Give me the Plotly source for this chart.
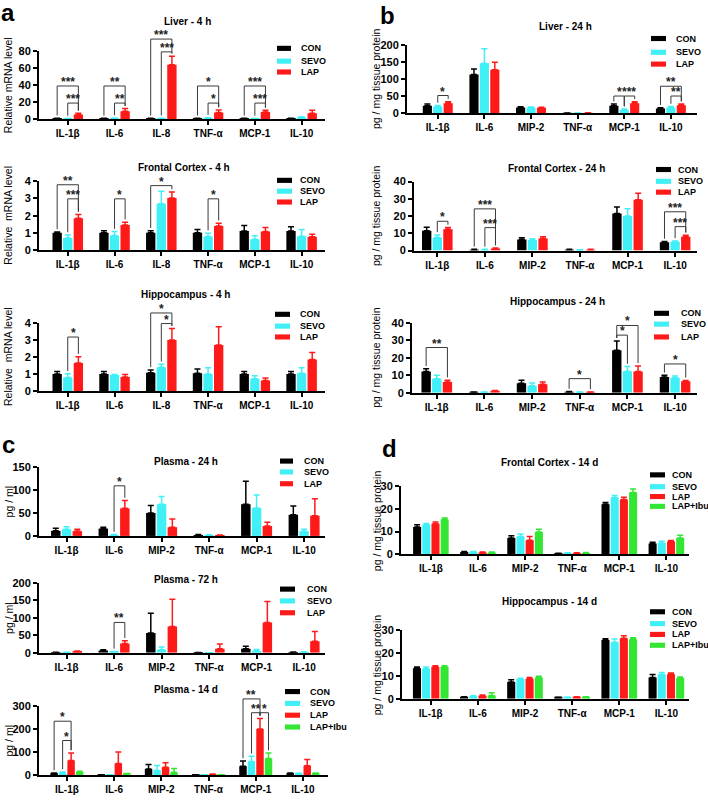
import plotly.graph_objects as go

W, H = 708, 800
FONT = "Arial, 'Liberation Sans', Helvetica, sans-serif"

# ---------------- categories / groups ----------------
CYTO_A = ["IL-1β", "IL-6", "IL-8", "TNF-α", "MCP-1", "IL-10"]
CYTO_B = ["IL-1β", "IL-6", "MIP-2", "TNF-α", "MCP-1", "IL-10"]
GROUPS = ["CON", "SEVO", "LAP", "LAP+Ibu"]
COLORS = ["#000000", "#40F0F6", "#FF1A1A", "#33E633"]

# ---------------- panel a : relative mRNA level ----------------
liver_4h_mean = [[1.0, 1.0, 1.0, 1.0, 1.0, 1.0],
                 [0.8, 1.2, 1.0, 1.5, 0.8, 2.5],
                 [5.5, 9.5, 64.0, 8.0, 8.5, 7.0]]
liver_4h_sem = [[0.2, 0.2, 0.2, 0.2, 0.2, 0.2],
                [0.2, 0.3, 0.2, 0.4, 0.2, 0.6],
                [1.5, 3.0, 10.0, 3.0, 2.0, 3.5]]
liver_4h_sig = [(0, 0, 2, 39, "***"), (0, 1, 2, 19, "***"),
                (1, 0, 2, 39, "**"), (1, 1, 2, 19, "**"),
                (2, 0, 2, 94, "***"), (2, 1, 2, 79, "***"),
                (3, 0, 2, 39, "*"), (3, 1, 2, 19, "*"),
                (4, 0, 2, 39, "***"), (4, 1, 2, 19, "***")]

fc_4h_mean = [[1.0, 1.0, 1.0, 1.0, 1.1, 1.1],
              [0.7, 0.85, 2.7, 0.78, 0.63, 0.8],
              [1.85, 1.45, 3.03, 1.4, 1.08, 0.77]]
fc_4h_sem = [[0.05, 0.12, 0.12, 0.2, 0.32, 0.25],
             [0.17, 0.22, 0.72, 0.2, 0.2, 0.4],
             [0.22, 0.17, 0.35, 0.16, 0.23, 0.15]]
fc_4h_sig = [(0, 0, 2, 3.8, "**"), (0, 1, 2, 2.98, "***"),
             (1, 1, 2, 2.98, "*"), (2, 0, 2, 3.75, "*"), (3, 1, 2, 2.98, "*")]

hip_4h_mean = [[1.0, 1.0, 1.07, 1.05, 1.0, 1.0],
               [0.8, 0.95, 1.4, 1.0, 0.73, 1.05],
               [1.65, 0.83, 3.0, 2.71, 0.63, 1.85]]
hip_4h_sem = [[0.15, 0.15, 0.17, 0.25, 0.15, 0.15],
              [0.22, 0.03, 0.18, 0.37, 0.17, 0.32],
              [0.37, 0.15, 0.67, 1.06, 0.14, 0.42]]
hip_4h_sig = [(0, 1, 2, 3.17, "*"), (2, 0, 2, 4.58, "*"), (2, 1, 2, 3.96, "*")]

# ---------------- panel b : pg / mg tissue protein, 24 h ----------------
liver_24h_mean = [[22, 113, 17, 0.5, 22, 14],
                  [20, 146, 17, 1.0, 9.5, 17],
                  [29.5, 127, 16, 1.5, 29.5, 24]]
liver_24h_sem = [[5, 16, 2, 0.3, 5, 2.5],
                 [3, 42, 1.5, 0.3, 3, 3],
                 [4.5, 22, 2, 0.5, 4, 3]]
liver_24h_sig = [(0, 1, 2, 52, "*"), (4, 0, 1, 50.5, "*"), (4, 1, 2, 50.5, "***"),
                 (5, 0, 2, 79, "**"), (5, 1, 2, 50.5, "**")]

fc_24h_mean = [[11.5, 0.5, 6.5, 0.5, 21.5, 4.8],
               [7.6, 0.5, 6.1, 0.3, 20.0, 5.1],
               [12.4, 1.2, 7.0, 0.5, 29.5, 8.0]]
fc_24h_sem = [[2.0, 0.2, 1.0, 0.2, 3.8, 0.5],
              [1.5, 0.2, 0.8, 0.2, 4.2, 0.5],
              [1.0, 0.3, 1.0, 0.2, 3.8, 0.9]]
fc_24h_sig = [(0, 1, 2, 17, "*"), (1, 0, 2, 24.2, "***"), (1, 1, 2, 13.3, "***"),
              (5, 0, 2, 22.5, "***"), (5, 1, 2, 13.9, "***")]

hip_24h_mean = [[12.2, 0.3, 5.4, 0.5, 24.4, 9.0],
                [8.1, 0.3, 4.1, 0.2, 12.4, 8.6],
                [6.2, 1.0, 4.9, 0.3, 12.2, 6.6]]
hip_24h_sem = [[1.5, 0.2, 1.8, 0.2, 5.3, 1.0],
               [2.0, 0.2, 1.5, 0.2, 2.6, 1.0],
               [1.0, 0.3, 1.3, 0.2, 3.2, 0.5]]
hip_24h_sig = [(0, 0, 2, 25.9, "**"), (3, 0, 2, 8.1, "*"), (4, 0, 1, 33, "*"),
               (4, 0, 2, 38.5, "*"), (5, 0, 2, 16.5, "*")]

# ---------------- panel c : plasma pg / ml ----------------
plasma_24h_mean = [[11, 16, 50, 2, 69, 46],
                   [14.5, 2, 69, 1.5, 61, 10],
                   [10.5, 60, 19, 1, 21.5, 44]]
plasma_24h_sem = [[5.5, 3, 16, 1, 50, 19],
                  [5.5, 1, 17, 1, 28, 4.5],
                  [4, 17, 18, 1, 8.5, 37]]
plasma_24h_sig = [(1, 1, 2, 109, "*")]

plasma_72h_mean = [[1, 6.5, 57, 0.5, 12, 2],
                   [1, 3, 9, 0.3, 5, 2],
                   [4.5, 27, 75, 12, 87, 33]]
plasma_72h_sem = [[0.5, 2, 56, 0.3, 7, 0.5],
                  [0.5, 1, 8, 0.2, 4.5, 1],
                  [1, 7.5, 78, 13, 60, 28]]
plasma_72h_sig = [(1, 1, 2, 87, "**")]

plasma_14d_mean = [[7, 1, 26, 0.5, 38.5, 7],
                   [10, 1, 20, 0.5, 58.5, 6],
                   [63, 50, 34, 3, 200, 40],
                   [13, 5, 11.5, 0.5, 71.5, 7]]
plasma_14d_sem = [[2, 0.5, 20, 0.2, 22, 2],
                  [3, 0.5, 21, 0.2, 23, 2],
                  [33, 50, 19, 1, 46, 27],
                  [3, 2, 17, 0.2, 24, 2]]
plasma_14d_sig = [(0, 0, 2, 234, "*"), (0, 1, 2, 150, "*"),
                  (4, 0, 2, 331, "**"), (4, 1, 2, 271, "**"), (4, 2, 3, 271, "*")]

# ---------------- panel d : pg / mg tissue protein, 14 d ----------------
fc_14d_mean = [[12.0, 1.0, 7.2, 0.3, 22.0, 4.8],
               [13.0, 1.0, 7.8, 0.5, 25.0, 5.0],
               [13.4, 0.8, 6.2, 0.5, 24.1, 5.6],
               [15.3, 0.8, 9.8, 0.6, 27.1, 7.2]]
fc_14d_sem = [[1.0, 0.3, 1.0, 0.2, 0.7, 0.5],
              [0.5, 0.2, 1.1, 0.2, 0.8, 0.8],
              [0.8, 0.2, 1.6, 0.2, 1.0, 0.5],
              [0.6, 0.2, 1.2, 0.2, 1.6, 1.2]]

hip_14d_mean = [[13.3, 0.7, 7.3, 0.5, 25.6, 9.3],
                [13.0, 1.1, 8.6, 0.5, 24.6, 10.6],
                [13.9, 1.3, 8.7, 0.7, 26.3, 10.7],
                [13.9, 1.4, 9.3, 0.7, 25.9, 9.0]]
hip_14d_sem = [[0.5, 0.2, 1.0, 0.2, 0.5, 1.2],
               [0.8, 0.2, 0.3, 0.2, 1.4, 0.8],
               [0.5, 0.3, 0.5, 0.2, 1.1, 0.5],
               [0.5, 1.2, 0.5, 0.2, 0.6, 0.5]]

TITLES = ["Liver - 4 h", "Frontal Cortex - 4 h", "Hippocampus - 4 h",
          "Liver - 24 h", "Frontal Cortex - 24 h", "Hippocampus - 24 h",
          "Plasma - 24 h", "Plasma - 72 h", "Plasma - 14 d",
          "Frontal Cortex - 14 d", "Hippocampus - 14 d"]
YTITLES = ["Relative mRNA level", "Relative  mRNA level", "Relative  mRNA level",
           "pg / mg tissue protein", "pg / mg tissue protein", "pg / mg tissue protein",
           "pg / ml", "pg / ml", "pg / ml",
           "pg / mg tissue protein", "pg / mg tissue protein"]

DATA = [
    (CYTO_A, liver_4h_mean, liver_4h_sem, liver_4h_sig),
    (CYTO_A, fc_4h_mean, fc_4h_sem, fc_4h_sig),
    (CYTO_A, hip_4h_mean, hip_4h_sem, hip_4h_sig),
    (CYTO_B, liver_24h_mean, liver_24h_sem, liver_24h_sig),
    (CYTO_B, fc_24h_mean, fc_24h_sem, fc_24h_sig),
    (CYTO_B, hip_24h_mean, hip_24h_sem, hip_24h_sig),
    (CYTO_B, plasma_24h_mean, plasma_24h_sem, plasma_24h_sig),
    (CYTO_B, plasma_72h_mean, plasma_72h_sem, plasma_72h_sig),
    (CYTO_B, plasma_14d_mean, plasma_14d_sem, plasma_14d_sig),
    (CYTO_B, fc_14d_mean, fc_14d_sem, []),
    (CYTO_B, hip_14d_mean, hip_14d_sem, []),
]

# ---------------- layout (pixel geometry) ----------------
LAYOUT = [
    dict(box=(39, 325, 115, 45.7), ymax=80, dtick=20, xr=(-0.615, 5.5), gw=0.68, title=(187, 16), ytx=8, leg=(277, 291, 299, [43, 56, 67])),
    dict(box=(39, 325, 247.7, 178), ymax=4, dtick=1, xr=(-0.615, 5.5), gw=0.68, title=(184, 164), ytx=8, leg=(277, 292, 298, [177, 188, 199])),
    dict(box=(39, 325, 391, 321.7), ymax=4, dtick=1, xr=(-0.615, 5.5), gw=0.68, title=(185, 293), ytx=8, leg=(275, 290, 298, [313, 325, 336])),
    dict(box=(407, 697, 109, 39.3), ymax=200, dtick=50, xr=(-0.66, 5.56), gw=0.67, title=(565, 21), ytx=376, leg=(651, 666, 674, [33, 47, 59])),
    dict(box=(414, 697, 248.3, 178.3), ymax=40, dtick=10, xr=(-0.49, 5.46), gw=0.67, title=(556, 165), ytx=376, leg=(656, 671, 676, [166, 178, 189])),
    dict(box=(412, 697, 392.7, 321.7), ymax=40, dtick=10, xr=(-0.52, 5.46), gw=0.67, title=(557, 300), ytx=376, leg=(654, 669, 679, [312, 323, 336])),
    dict(box=(39, 325, 538, 468), ymax=150, dtick=50, xr=(-0.58, 5.44), gw=0.68, title=(186, 462), ytx=9, leg=(280, 293, 302, [462, 473, 485])),
    dict(box=(39, 325, 656.7, 585.7), ymax=200, dtick=50, xr=(-0.58, 5.44), gw=0.68, title=(186, 582), ytx=9, leg=(280, 295, 305, [592, 604, 616])),
    dict(box=(39, 328, 780.7, 710.7), ymax=300, dtick=100, xr=(-0.59, 5.53), gw=0.72, title=(186, 694), ytx=9, leg=(285, 300, 308, [696, 708, 720, 732])),
    dict(box=(401, 689, 556.7, 487.3), ymax=30, dtick=10, xr=(-0.635, 5.48), gw=0.78, title=(549, 463), ytx=377, leg=(650, 665, 670, [476, 488, 498, 508])),
    dict(box=(402, 689, 703.3, 633.3), ymax=30, dtick=10, xr=(-0.61, 5.48), gw=0.78, title=(549, 605), ytx=377, leg=(650, 665, 670, [615, 627, 638, 649])),
]
LETTERS = [("a", 8, 7), ("b", 388, 10), ("c", 8, 445), ("d", 389, 449)]

fig = go.Figure()
shapes, annotations, axes = [], [], {}

def font(size, bold=False, color="black"):
    d = dict(family=FONT, size=size, color=color)
    if bold:
        d["weight"] = "bold"
    return d

for k, ((cats, mean, sem, sig), lay, title, ytitle) in enumerate(zip(DATA, LAYOUT, TITLES, YTITLES), start=1):
    sfx = "" if k == 1 else str(k)
    xa, ya = "x" + sfx, "y" + sfx
    x0, x1, yb, yt = lay["box"]
    xr, ymax = lay["xr"], lay["ymax"]
    n = len(mean)
    gw = lay["gw"]
    slot = gw / n
    bw = slot * 0.88
    offs = [-gw / 2 + slot * i + (slot - bw) / 2 for i in range(n)]

    for i in range(n):
        fig.add_trace(go.Bar(
            x=cats, y=mean[i], width=bw, offset=offs[i], name=GROUPS[i],
            marker=dict(color=COLORS[i], line=dict(width=0)),
            error_y=dict(type="data", array=sem[i], arrayminus=[0] * len(cats), symmetric=False,
                         color=COLORS[i], thickness=1.5, width=3),
            xaxis=xa, yaxis=ya, showlegend=False))

    axes["xaxis" + sfx] = dict(
        domain=[x0 / W, x1 / W], anchor=ya, type="category", range=list(xr),
        showline=True, linewidth=2, linecolor="black", ticks="outside", ticklen=4,
        tickwidth=1.5, tickcolor="black", tickfont=font(10, True), showgrid=False,
        zeroline=False, fixedrange=True)
    axes["yaxis" + sfx] = dict(
        domain=[1 - yb / H, 1 - yt / H], anchor=xa, range=[0, ymax], tickmode="linear",
        tick0=0, dtick=lay["dtick"], showline=True, linewidth=2, linecolor="black",
        ticks="outside", ticklen=4, tickwidth=1.5, tickcolor="black",
        tickfont=font(11, True), showgrid=False, zeroline=False, fixedrange=True)

    # significance brackets (computed from data via axis fractions)
    xref, yref = xa + " domain", ya + " domain"
    fx = lambda v: (v - xr[0]) / (xr[1] - xr[0])
    fy = lambda v: v / ymax
    for (c, g1, g2, lev, lab) in sig:
        bx1 = c + offs[g1] + bw / 2
        bx2 = c + offs[g2] + bw / 2
        b1 = min(lev, mean[g1][c] + sem[g1][c] + 0.04 * ymax)
        b2 = min(lev, mean[g2][c] + sem[g2][c] + 0.04 * ymax)
        ln = dict(color="#3a3a3a", width=1)
        shapes.append(dict(type="line", xref=xref, yref=yref, x0=fx(bx1), x1=fx(bx1), y0=fy(b1), y1=fy(lev), line=ln))
        shapes.append(dict(type="line", xref=xref, yref=yref, x0=fx(bx1), x1=fx(bx2), y0=fy(lev), y1=fy(lev), line=ln))
        shapes.append(dict(type="line", xref=xref, yref=yref, x0=fx(bx2), x1=fx(bx2), y0=fy(b2), y1=fy(lev), line=ln))
        annotations.append(dict(xref=xref, yref=yref, x=fx((bx1 + bx2) / 2), y=fy(lev), text=lab,
                                showarrow=False, xanchor="center", yanchor="bottom", yshift=-5,
                                font=font(12, True, "#222222")))

    # title
    annotations.append(dict(xref="paper", yref="paper", x=lay["title"][0] / W, y=1 - lay["title"][1] / H,
                            text=title, showarrow=False, xanchor="center", yanchor="middle", font=font(10, True)))
    # y-axis title
    annotations.append(dict(xref="paper", yref="paper", x=lay["ytx"] / W, y=1 - (yb + yt) / 2 / H,
                            text=ytitle, showarrow=False, textangle=-90, xanchor="center", yanchor="middle",
                            font=font(10.5)))
    # legend
    sx0, sx1, tx, rows = lay["leg"]
    for i, ry in enumerate(rows):
        shapes.append(dict(type="rect", xref="paper", yref="paper", x0=sx0 / W, x1=sx1 / W,
                           y0=1 - (ry + 2.6) / H, y1=1 - (ry - 2.6) / H,
                           fillcolor=COLORS[i], line=dict(width=0)))
        annotations.append(dict(xref="paper", yref="paper", x=tx / W, y=1 - ry / H, text=GROUPS[i],
                                showarrow=False, xanchor="left", yanchor="middle", font=font(9, True)))

for (lt, lx, ly) in LETTERS:
    annotations.append(dict(xref="paper", yref="paper", x=lx / W, y=1 - ly / H, text=lt, showarrow=False,
                            xanchor="center", yanchor="middle", font=font(24, True)))

fig.update_layout(width=W, height=H, margin=dict(l=0, r=0, t=0, b=0),
                  paper_bgcolor="white", plot_bgcolor="white",
                  showlegend=False, shapes=shapes, annotations=annotations, **axes)

fig.write_html("out.html", config={"displayModeBar": False},
               post_script="document.body.style.margin='0';document.body.style.overflow='hidden';")
